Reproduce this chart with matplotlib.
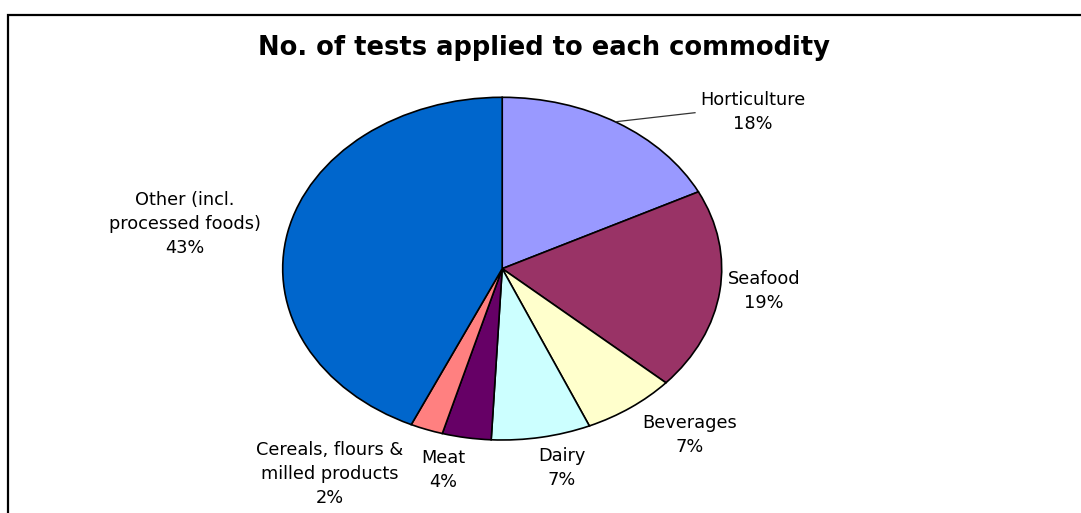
import matplotlib
matplotlib.use("Agg")
import matplotlib.pyplot as plt
from matplotlib.patches import Rectangle
from matplotlib.lines import Line2D

# ---------------- DATA ----------------

commodities = [
    "Horticulture",
    "Seafood",
    "Beverages",
    "Dairy",
    "Meat",
    "Cereals, flours &\nmilled products",
    "Other (incl.\nprocessed foods)",
]
shares = [17.6, 19.0, 6.9, 7.3, 3.6, 2.4, 43.2]   # % of tests
colors = ["#9999FF", "#993366", "#FFFFCC", "#CCFFFF", "#660066", "#FF8080", "#0066CC"]

TITLE = "No. of tests applied to each commodity"

# label centres in figure pixels (x, y from top)
label_pos = [(753, 112), (764, 291), (690, 435), (562, 468),
             (443, 470), (330, 474), (185, 224)]

W, H = 1081, 513

# ----------------------------------------

fig = plt.figure(figsize=(W / 100, H / 100), dpi=100)
fig.patch.set_facecolor("white")

# pie axes sized to the (stretched) ellipse
ax = fig.add_axes([282.7 / W, (H - 440) / H, 439 / W, 342.7 / H])
ax.pie(
    shares,
    colors=colors,
    startangle=90,
    counterclock=False,
    wedgeprops=dict(edgecolor="black", linewidth=1.2),
)
ax.set_aspect("auto")
ax.set_xlim(-1, 1)
ax.set_ylim(-1, 1)
ax.axis("off")

total = sum(shares)
for name, val, (px, py) in zip(commodities, shares, label_pos):
    fig.text(px / W, 1 - py / H, f"{name}\n{val / total * 100:.0f}%",
             ha="center", va="center", fontsize=12.8, color="black",
             family="DejaVu Sans", linespacing=1.45)

# leader line for Horticulture
fig.add_artist(Line2D([616 / W, 695 / W], [1 - 121.7 / H, 1 - 112.7 / H],
                      color="#333333", linewidth=0.9))

fig.text(544 / W, 1 - 48 / H, TITLE, ha="center", va="center",
         fontsize=18.5, fontweight="bold", family="DejaVu Sans")

# chart area border (only top and left visible in crop)
fig.add_artist(Rectangle((8 / W, -0.1), 1.2, (H - 15) / H + 0.1,
                         fill=False, edgecolor="black", linewidth=1.6,
                         transform=fig.transFigure))

plt.savefig("out.png", dpi=100)
plt.close()
